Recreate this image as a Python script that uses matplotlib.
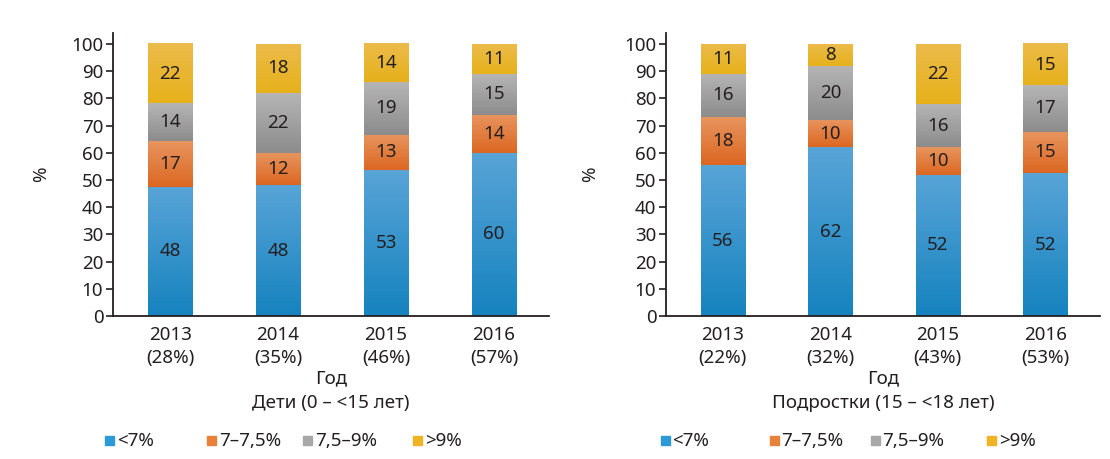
import matplotlib
matplotlib.use('Agg')
import matplotlib.pyplot as plt
from matplotlib.patches import Rectangle
from matplotlib.colors import LinearSegmentedColormap
import numpy as np

plt.rcParams['font.family'] = ['Noto Sans', 'DejaVu Sans']

# данные
years = ['2013', '2014', '2015', '2016']
share_kids = ['(28%)', '(35%)', '(46%)', '(57%)']
share_teens = ['(22%)', '(32%)', '(43%)', '(53%)']
categories = ['<7%', '7–7,5%', '7,5–9%', '>9%']

kids_lt7 = [48, 48, 53, 60]
kids_7_75 = [17, 12, 13, 14]
kids_75_9 = [14, 22, 19, 15]
kids_gt9 = [22, 18, 14, 11]

teens_lt7 = [56, 62, 52, 52]
teens_7_75 = [18, 10, 10, 15]
teens_75_9 = [16, 20, 16, 17]
teens_gt9 = [11, 8, 22, 15]

# цвета: верх сегмента светлее, низ темнее
grad = [('#58a4d7', '#1683bf'),
        ('#e8955f', '#dc6722'),
        ('#b5b5b5', '#8c8c8c'),
        ('#ecbb4a', '#e6b11a')]
legend_colors = ['#2b9ad6', '#e8823a', '#a8a8a8', '#f0b323']
text_color = '#231f20'
fs = 13.5

fig = plt.figure(figsize=(11.1, 4.59), dpi=100)


def draw_panel(ax, series, shares, title, leg_x, ylab_x):
    data = np.array(series, dtype=float)
    data = data / data.sum(axis=0) * 100  # столбцы нормированы до 100%
    x = np.arange(len(years))
    w = 0.41
    bottom = np.zeros(len(years))
    for k in range(len(series)):
        cmap = LinearSegmentedColormap.from_list('g%d' % k, [grad[k][1], grad[k][0]])
        for i in range(len(years)):
            y0, y1 = bottom[i], bottom[i] + data[k][i]
            g = np.linspace(0, 1, 64).reshape(-1, 1)
            ax.imshow(g, cmap=cmap, origin='lower', aspect='auto',
                      extent=(x[i] - w / 2, x[i] + w / 2, y0, y1), zorder=2)
            ax.text(x[i], (y0 + y1) / 2, str(series[k][i]), ha='center', va='center',
                    fontsize=fs, color=text_color, zorder=3)
        bottom += data[k]

    ax.set_xlim(-0.53, 3.51)
    ax.set_ylim(0, 104)
    ax.set_yticks(range(0, 101, 10))
    ax.set_xticks(x)
    ax.set_xticklabels([f'{y}\n{s}' for y, s in zip(years, shares)], linespacing=1.35)
    ax.tick_params(axis='x', length=0, pad=7, labelsize=fs, colors=text_color)
    ax.tick_params(axis='y', length=5, width=1.2, pad=2, labelsize=fs, colors=text_color)
    for s in ['top', 'right']:
        ax.spines[s].set_visible(False)
    for s in ['left', 'bottom']:
        ax.spines[s].set_linewidth(1.3)
        ax.spines[s].set_color('#231f20')
    ax.set_ylabel('%', fontsize=fs, color=text_color)
    ax.yaxis.set_label_coords(ylab_x, 0.5)
    ax.set_xlabel('Год\n' + title, fontsize=fs, color=text_color, linespacing=1.45, labelpad=2)

    # легенда вручную
    for k, name in enumerate(categories):
        ax.add_patch(Rectangle((leg_x[k], -0.455), 9 / 436, 9 / 283, transform=ax.transAxes,
                               color=legend_colors[k], clip_on=False))
        ax.text(leg_x[k] + 0.027, -0.44, name, transform=ax.transAxes, ha='left', va='center',
                fontsize=fs, color=text_color)


ax1 = fig.add_axes([0.1018, 0.3115, 0.3928, 0.6166])
draw_panel(ax1, [kids_lt7, kids_7_75, kids_75_9, kids_gt9], share_kids,
           'Дети (0 – <15 лет)', [-0.018, 0.216, 0.436, 0.688], -0.145)

ax2 = fig.add_axes([0.6, 0.3115, 0.391, 0.6166])
draw_panel(ax2, [teens_lt7, teens_7_75, teens_75_9, teens_gt9], share_teens,
           'Подростки (15 – <18 лет)', [-0.012, 0.239, 0.472, 0.740], -0.153)

fig.savefig('out.png', dpi=100)
